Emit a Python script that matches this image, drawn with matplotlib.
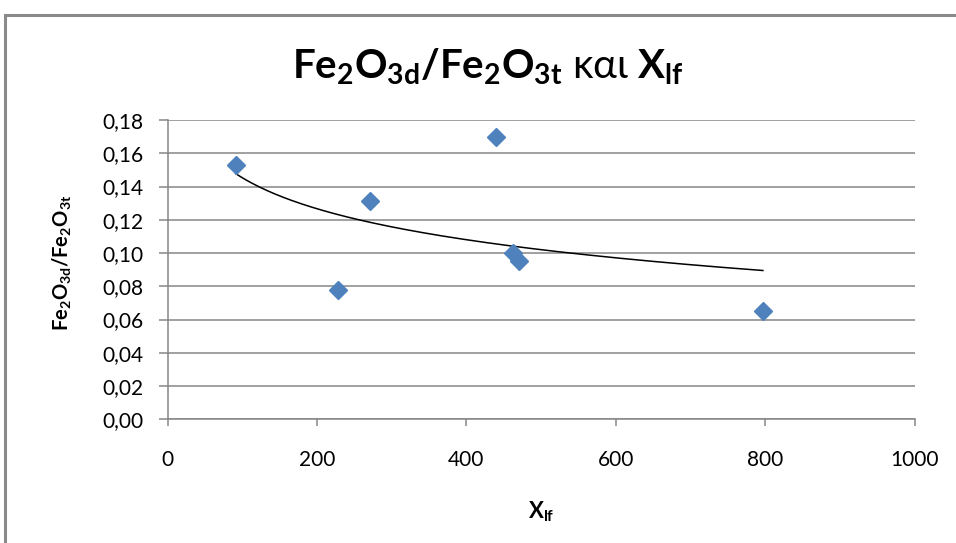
import numpy as np
import matplotlib
matplotlib.use("Agg")
import matplotlib.pyplot as plt
from matplotlib.patches import Rectangle
from matplotlib.ticker import FuncFormatter

# data
x_lf = [91, 228, 271, 440, 463, 470, 797]
fe_ratio = [0.153, 0.078, 0.131, 0.170, 0.100, 0.095, 0.065]

x_ticks = [0, 200, 400, 600, 800, 1000]
y_ticks = [0.00, 0.02, 0.04, 0.06, 0.08, 0.10, 0.12, 0.14, 0.16, 0.18]

title_txt = r"$\mathbf{Fe_2O_{3d}/Fe_2O_{3t}}$ και $\mathbf{X_{lf}}$"
ylabel_txt = r"$\mathbf{Fe_2O_{3d}/Fe_2O_{3t}}$"
xlabel_txt = r"$\mathbf{X_{lf}}$"

plt.rcParams["font.family"] = ["Lato", "Noto Sans", "DejaVu Sans"]
plt.rcParams["mathtext.fontset"] = "custom"
plt.rcParams["mathtext.rm"] = "Lato"
plt.rcParams["mathtext.bf"] = "Lato:bold"
plt.rcParams["mathtext.it"] = "Lato:italic"

W, H = 956, 543
fig = plt.figure(figsize=(W / 100, H / 100), dpi=100)

# outer chart border (cut off at right and bottom like the original)
fig.patches.append(Rectangle((5 / W, -0.1), 1.2, 1 - 15 / H + 0.1,
                             transform=fig.transFigure, fill=False,
                             edgecolor="#8a8a8a", linewidth=2.2))

left, right = 167.7 / W, 914.5 / W
bottom, top = 1 - 419.3 / H, 1 - 120 / H
ax = fig.add_axes([left, bottom, right - left, top - bottom])

grid_c = "#868686"
ax.set_xlim(0, 1000)
ax.set_ylim(0, 0.18)
ax.set_xticks(x_ticks)
ax.set_yticks(y_ticks)
ax.yaxis.set_major_formatter(FuncFormatter(lambda v, p: f"{v:.2f}".replace(".", ",")))
ax.yaxis.grid(True, color=grid_c, linewidth=1.1)
ax.set_axisbelow(True)
for s in ["top", "right"]:
    ax.spines[s].set_visible(False)
for s in ["left", "bottom"]:
    ax.spines[s].set_color(grid_c)
    ax.spines[s].set_linewidth(1.1)
ax.tick_params(axis="x", direction="out", length=5, width=1.1, color=grid_c,
               pad=17, labelsize=15)
ax.tick_params(axis="y", direction="out", length=6.7, width=1.1, color=grid_c,
               pad=11, labelsize=15)

# logarithmic trendline fitted to the points
lx = np.log(np.array(x_lf))
a, b = np.polyfit(lx, np.array(fe_ratio), 1)
xt = np.linspace(min(x_lf), max(x_lf), 200)
ax.plot(xt, a * np.log(xt) + b, color="black", linewidth=1.1, zorder=2)

ax.plot(x_lf, fe_ratio, linestyle="none", marker="D", markersize=9.5,
        color="#4F81BD", markeredgecolor="#4F81BD", zorder=3, clip_on=False)

fig.text(488 / W, 1 - 67 / H, title_txt, ha="center", va="center", fontsize=29)
fig.text(62 / W, 1 - 263 / H, ylabel_txt, ha="center", va="center",
         rotation=90, fontsize=14.5)
fig.text(541 / W, 1 - 512 / H, xlabel_txt, ha="center", va="center", fontsize=16)

fig.savefig("out.png", dpi=100)
